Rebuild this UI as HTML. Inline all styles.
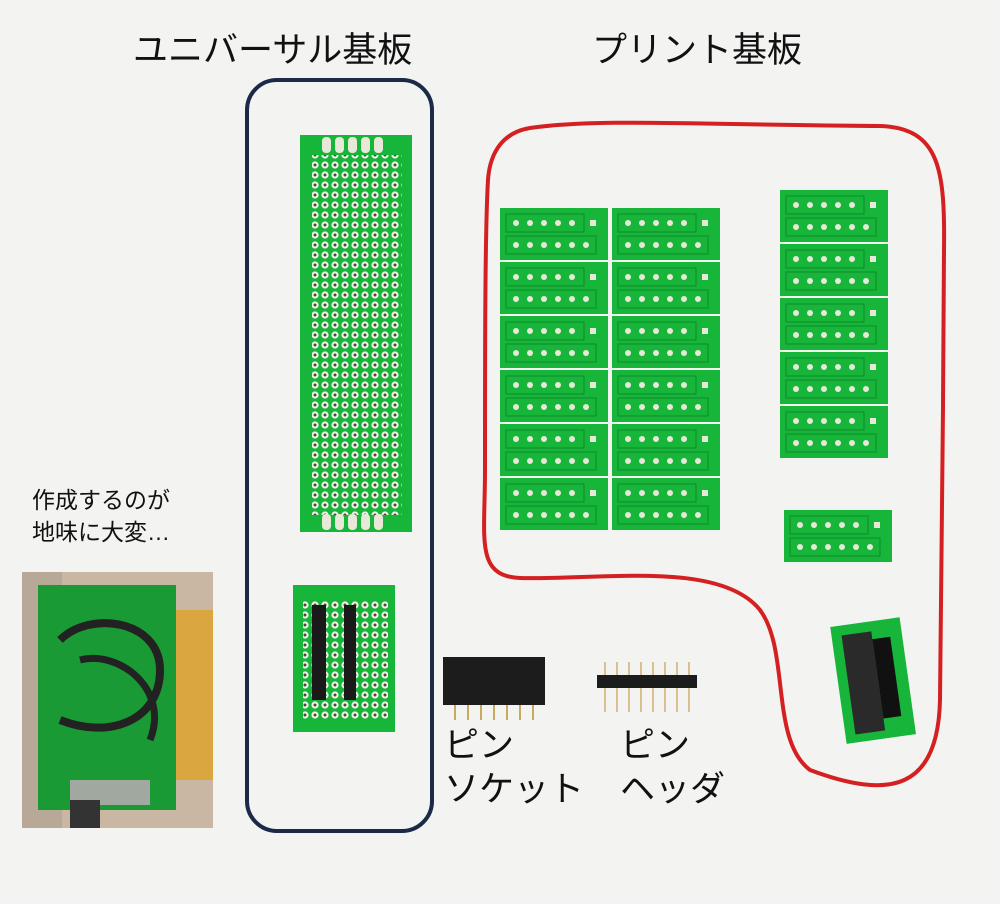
<!DOCTYPE html>
<html><head><meta charset="utf-8"><style>
html,body{margin:0;padding:0;background:#f3f3f2;}
body{width:1000px;height:904px;overflow:hidden;position:relative;font-family:"Liberation Sans","Noto Sans CJK JP",sans-serif;}
.t{position:absolute;color:#111;white-space:nowrap;}
</style></head><body>
<svg width="1000" height="904" style="position:absolute;left:0;top:0">
<defs>
<pattern id="holes" x="0" y="0" width="10" height="10" patternUnits="userSpaceOnUse">
<circle cx="5" cy="5" r="3.6" fill="#f2f2e8"/><circle cx="5" cy="5" r="1.5" fill="#4a4a3a"/>
</pattern>
<g id="pb">
<rect x="0" y="0" width="108" height="52" fill="#17b53a"/>
<rect x="6" y="6" width="78" height="18" fill="none" stroke="#0d8c2a" stroke-width="1"/>
<g fill="#e8e8d8"><circle cx="16" cy="15" r="3"/><circle cx="30" cy="15" r="3"/><circle cx="44" cy="15" r="3"/><circle cx="58" cy="15" r="3"/><circle cx="72" cy="15" r="3"/>
<circle cx="16" cy="37" r="3"/><circle cx="30" cy="37" r="3"/><circle cx="44" cy="37" r="3"/><circle cx="58" cy="37" r="3"/><circle cx="72" cy="37" r="3"/><circle cx="86" cy="37" r="3"/></g>
<rect x="6" y="28" width="90" height="18" fill="none" stroke="#0d8c2a" stroke-width="1"/>
<rect x="90" y="12" width="6" height="6" fill="#e8e8d8"/>
</g>
</defs>
<rect x="247" y="80" width="185" height="751" rx="30" fill="none" stroke="#1b2a48" stroke-width="4"/>
<path d="M530 128 C600 118 700 125 880 126 C940 128 945 170 944 250 C943 400 942 600 940 700 C938 790 890 800 810 770 C770 740 790 650 760 610 C720 560 600 580 520 578 C475 576 485 540 485 470 C485 350 485 230 488 180 C490 150 505 132 530 128 Z" fill="none" stroke="#d42020" stroke-width="4"/>
<rect x="300" y="135" width="112" height="397" fill="#17b53a"/>
<rect x="312" y="155" width="90" height="360" fill="url(#holes)"/>
<g fill="#e8e8d8"><rect x="322" y="137" width="9" height="16" rx="4"/><rect x="335" y="137" width="9" height="16" rx="4"/><rect x="348" y="137" width="9" height="16" rx="4"/><rect x="361" y="137" width="9" height="16" rx="4"/><rect x="374" y="137" width="9" height="16" rx="4"/>
<rect x="322" y="514" width="9" height="16" rx="4"/><rect x="335" y="514" width="9" height="16" rx="4"/><rect x="348" y="514" width="9" height="16" rx="4"/><rect x="361" y="514" width="9" height="16" rx="4"/><rect x="374" y="514" width="9" height="16" rx="4"/></g>
<rect x="293" y="585" width="102" height="147" fill="#17b53a"/>
<rect x="303" y="600" width="85" height="120" fill="url(#holes)"/>
<rect x="312" y="605" width="14" height="95" fill="#1a1a1a"/>
<rect x="344" y="605" width="12" height="95" fill="#1a1a1a"/>
<g><use href="#pb" x="500" y="208"/><use href="#pb" x="612" y="208"/>
<use href="#pb" x="500" y="262"/><use href="#pb" x="612" y="262"/>
<use href="#pb" x="500" y="316"/><use href="#pb" x="612" y="316"/>
<use href="#pb" x="500" y="370"/><use href="#pb" x="612" y="370"/>
<use href="#pb" x="500" y="424"/><use href="#pb" x="612" y="424"/>
<use href="#pb" x="500" y="478"/><use href="#pb" x="612" y="478"/>
<use href="#pb" x="780" y="190"/><use href="#pb" x="780" y="244"/><use href="#pb" x="780" y="298"/><use href="#pb" x="780" y="352"/><use href="#pb" x="780" y="406"/>
<use href="#pb" x="784" y="510"/></g>
<g transform="rotate(-8 870 680)"><rect x="838" y="622" width="70" height="118" fill="#17b53a"/><rect x="848" y="632" width="30" height="100" fill="#2a2a2a"/><rect x="878" y="640" width="18" height="80" fill="#111"/></g>
<rect x="443" y="657" width="102" height="48" fill="#1c1c1c"/>
<g stroke="#c9a860" stroke-width="2"><line x1="455" y1="705" x2="455" y2="720"/><line x1="468" y1="705" x2="468" y2="720"/><line x1="481" y1="705" x2="481" y2="720"/><line x1="494" y1="705" x2="494" y2="720"/><line x1="507" y1="705" x2="507" y2="720"/><line x1="520" y1="705" x2="520" y2="720"/><line x1="533" y1="705" x2="533" y2="720"/></g>
<g stroke="#d8c090" stroke-width="2"><line x1="605" y1="662" x2="605" y2="712"/><line x1="617" y1="662" x2="617" y2="712"/><line x1="629" y1="662" x2="629" y2="712"/><line x1="641" y1="662" x2="641" y2="712"/><line x1="653" y1="662" x2="653" y2="712"/><line x1="665" y1="662" x2="665" y2="712"/><line x1="677" y1="662" x2="677" y2="712"/><line x1="689" y1="662" x2="689" y2="712"/></g>
<rect x="597" y="675" width="100" height="13" fill="#1c1c1c"/>
<rect x="22" y="572" width="191" height="256" fill="#c9b7a4"/>
<rect x="160" y="610" width="53" height="170" fill="#d9a640"/>
<rect x="22" y="572" width="40" height="256" fill="#b8a898"/>
<rect x="38" y="585" width="138" height="225" fill="#1a9a35"/>
<path d="M60 640 C90 610 160 620 160 670 C160 720 110 740 60 720" fill="none" stroke="#222" stroke-width="8"/>
<path d="M80 660 C120 650 170 690 150 740" fill="none" stroke="#222" stroke-width="7"/>
<rect x="70" y="780" width="80" height="25" fill="#a0a8a0"/>
<rect x="70" y="800" width="30" height="28" fill="#333"/>
</svg>
<div class="t" style="left:133px;top:22px;font-size:35px;">ユニバーサル基板</div>
<div class="t" style="left:592px;top:22px;font-size:35px;">プリント基板</div>
<div class="t" style="left:32px;top:484px;font-size:23px;line-height:32px;">作成するのが<br>地味に大変…</div>
<div class="t" style="left:444px;top:724px;font-size:35px;line-height:44px;">ピン<br>ソケット</div>
<div class="t" style="left:620px;top:724px;font-size:35px;line-height:44px;">ピン<br>ヘッダ</div>
</body></html>
